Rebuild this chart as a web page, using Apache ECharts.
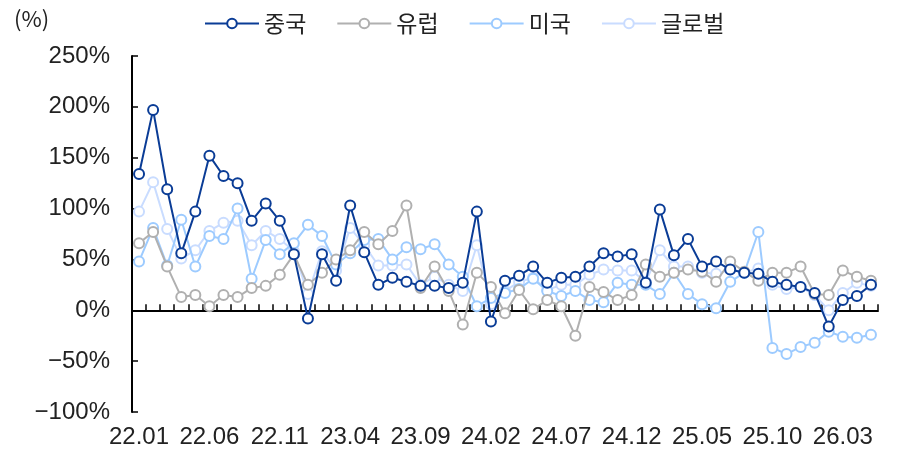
<!DOCTYPE html>
<html>
<head>
<meta charset="utf-8">
<script src="https://cdn.jsdelivr.net/npm/echarts@6/dist/echarts.min.js"></script>
<style>
  html, body { margin: 0; padding: 0; background: #fff; }
  #chart { width: 897px; height: 453px; }
</style>
</head>
<body>
<div id="chart"></div>
<script>
// 월별 (22.01 ~ 26.05)
const months = [];
for (let y = 22; y <= 26; y++) {
  for (let m = 1; m <= 12; m++) {
    if (y === 26 && m > 5) break;
    months.push(y + '.' + (m < 10 ? '0' + m : m));
  }
}

const china = [134, 197, 119, 56, 97, 152, 132, 125, 88, 105, 88, 55, -8, 55, 29, 103, 57, 25, 32, 28,
  24, 24, 22, 27, 97, -11, 29, 34, 43, 27, 32, 33, 43, 56, 53, 55, 27, 99, 54, 70,
  43, 48, 40, 37, 36, 28, 25, 23, 17, -16, 10, 14, 25];
const europe = [66, 77, 43, 13, 15, 4, 15, 13, 22, 24, 35, 55, 25, 37, 50, 59, 77, 65, 78, 103,
  22, 43, 19, -14, 37, 23, -3, 20, 1, 10, 4, -25, 23, 18, 10, 15, 45, 33, 37, 40,
  38, 28, 48, 38, 29, 37, 37, 43, 16, 15, 39, 33, 29];
const usa = [48, 81, 44, 89, 43, 73, 70, 100, 31, 69, 55, 66, 84, 73, 45, 56, 69, 70, 50, 62,
  60, 65, 45, 33, 4, 12, 17, 21, 31, 19, 14, 19, 10, 8, 27, 25, 25, 16, 37, 16,
  6, 2, 28, 37, 77, -37, -43, -36, -32, -21, -26, -27, -24];
const world = [97, 126, 80, 51, 59, 78, 86, 88, 64, 78, 70, 58, 16, 58, 39, 81, 64, 44, 44, 45,
  25, 33, 25, 19, 64, 6, 19, 28, 32, 20, 25, 25, 35, 40, 39, 39, 28, 59, 43, 43,
  37, 36, 40, 37, 41, 25, 21, 23, 15, 0, 17, 27, 24];

const chart = echarts.init(document.getElementById('chart'));

function line(name, data, color, z) {
  return {
    name: name,
    type: 'line',
    data: data,
    z: z,
    symbol: 'circle',
    symbolSize: 10,
    showAllSymbol: true,
    lineStyle: { color: color, width: 2 },
    itemStyle: { color: '#fff', borderColor: color, borderWidth: 2 }
  };
}

chart.setOption({
  animation: false,
  textStyle: { fontFamily: 'Liberation Sans, Noto Sans CJK KR, sans-serif' },
  graphic: [{
    type: 'text', left: 14, top: 8,
    style: { text: '(%)', fontSize: 22, fill: '#222', fontFamily: 'Noto Sans CJK KR' }
  }],
  legend: {
    top: 7,
    left: 199,
    itemWidth: 54,
    itemHeight: 12,
    itemGap: 30,
    textStyle: { fontSize: 23, color: '#222', fontFamily: 'Noto Sans CJK KR' },
    data: ['중국', '유럽', '미국', '글로벌']
  },
  grid: { left: 132, right: 19, top: 56, bottom: 41 },
  xAxis: [{
    type: 'category',
    data: months,
    boundaryGap: true,
    axisLine: { onZero: true, lineStyle: { color: '#000', width: 2 } },
    axisTick: { show: true, inside: true, length: 6, interval: 0, lineStyle: { color: '#000', width: 1.5 } },
    axisLabel: { show: false }
  }, {
    type: 'category',
    data: months,
    position: 'bottom',
    boundaryGap: true,
    axisLine: { show: false, onZero: false },
    axisTick: { show: false },
    axisLabel: { interval: 4, fontSize: 24, color: '#222', margin: 13 }
  }],
  yAxis: {
    type: 'value',
    min: -100,
    max: 250,
    interval: 50,
    axisLine: { show: true, lineStyle: { color: '#000', width: 2 } },
    axisTick: { show: true, inside: true, length: 6, lineStyle: { color: '#000', width: 1.5 } },
    splitLine: { show: false },
    axisLabel: {
      formatter: function (v) { return (v < 0 ? '\u2212' + (-v) : v) + '%'; },
      fontSize: 24, color: '#222', margin: 22
    }
  },
  series: [
    line('글로벌', world, '#c9dcff', 2),
    line('미국', usa, '#9dcbff', 3),
    line('유럽', europe, '#b0b0b0', 4),
    line('중국', china, '#0a3c96', 5)
  ]
});
</script>
</body>
</html>
